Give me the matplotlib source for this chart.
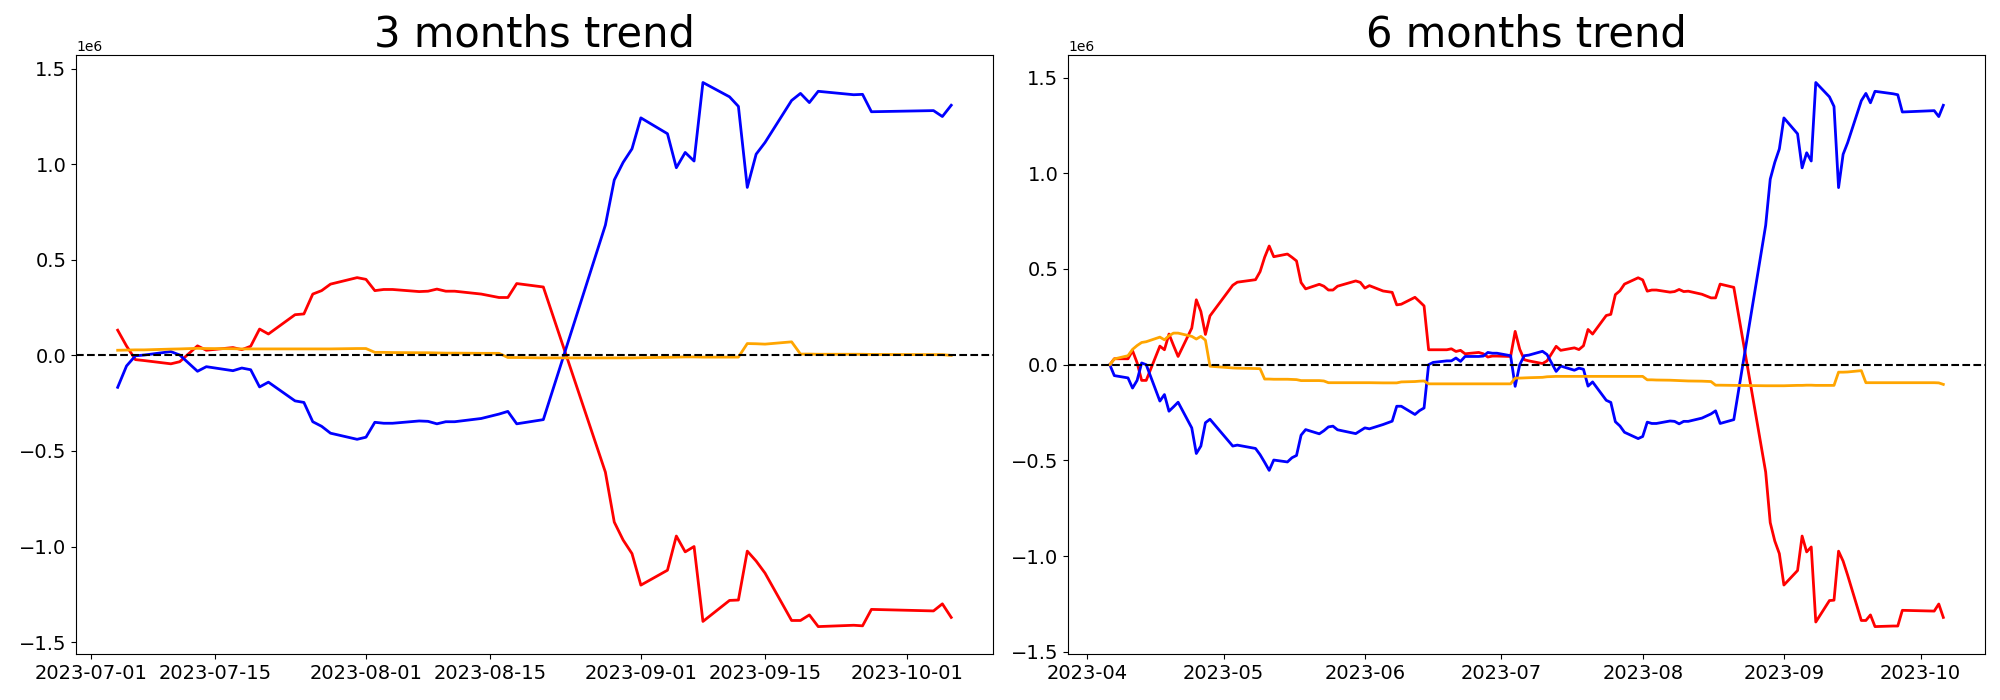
import matplotlib
matplotlib.use("Agg")
import matplotlib.pyplot as plt
import pandas as pd

# ---------------- 3 months trend ----------------
left_dates = [
    "2023-07-04", "2023-07-05", "2023-07-06", "2023-07-07",
    "2023-07-10", "2023-07-11", "2023-07-13", "2023-07-14",
    "2023-07-17", "2023-07-18", "2023-07-19", "2023-07-20", "2023-07-21",
    "2023-07-24", "2023-07-25", "2023-07-26", "2023-07-27", "2023-07-28",
    "2023-07-31", "2023-08-01", "2023-08-02", "2023-08-03", "2023-08-04",
    "2023-08-07", "2023-08-08", "2023-08-09", "2023-08-10", "2023-08-11",
    "2023-08-14", "2023-08-16", "2023-08-17", "2023-08-18",
    "2023-08-21", "2023-08-28", "2023-08-29", "2023-08-30", "2023-08-31", "2023-09-01",
    "2023-09-04", "2023-09-05", "2023-09-06", "2023-09-07", "2023-09-08",
    "2023-09-11", "2023-09-12", "2023-09-13", "2023-09-14", "2023-09-15",
    "2023-09-18", "2023-09-19", "2023-09-20", "2023-09-21",
    "2023-09-25", "2023-09-26", "2023-09-27",
    "2023-10-04", "2023-10-05", "2023-10-06",
]
left_red = [
    0.132e6, 0.049e6, -0.022e6, -0.027e6,
    -0.044e6, -0.033e6, 0.050e6, 0.027e6,
    0.041e6, 0.030e6, 0.048e6, 0.138e6, 0.112e6,
    0.213e6, 0.217e6, 0.321e6, 0.339e6, 0.373e6,
    0.407e6, 0.398e6, 0.339e6, 0.345e6, 0.345e6,
    0.334e6, 0.336e6, 0.347e6, 0.336e6, 0.336e6,
    0.321e6, 0.303e6, 0.303e6, 0.376e6,
    0.358e6, -0.611e6, -0.872e6, -0.966e6, -1.037e6, -1.202e6,
    -1.124e6, -0.945e6, -1.028e6, -1.000e6, -1.392e6,
    -1.282e6, -1.280e6, -1.024e6, -1.076e6, -1.139e6,
    -1.387e6, -1.387e6, -1.358e6, -1.419e6,
    -1.412e6, -1.415e6, -1.329e6,
    -1.337e6, -1.300e6, -1.371e6,
]
left_blue = [
    -0.167e6, -0.055e6, -0.002e6, 0.002e6,
    0.020e6, 0.002e6, -0.083e6, -0.059e6,
    -0.080e6, -0.066e6, -0.075e6, -0.165e6, -0.140e6,
    -0.238e6, -0.246e6, -0.347e6, -0.371e6, -0.407e6,
    -0.439e6, -0.428e6, -0.350e6, -0.355e6, -0.355e6,
    -0.343e6, -0.345e6, -0.358e6, -0.347e6, -0.347e6,
    -0.330e6, -0.307e6, -0.293e6, -0.358e6,
    -0.336e6, 0.682e6, 0.918e6, 1.010e6, 1.081e6, 1.243e6,
    1.160e6, 0.982e6, 1.062e6, 1.017e6, 1.428e6,
    1.353e6, 1.303e6, 0.879e6, 1.053e6, 1.114e6,
    1.334e6, 1.371e6, 1.323e6, 1.382e6,
    1.364e6, 1.366e6, 1.275e6,
    1.281e6, 1.250e6, 1.309e6,
]
left_orange = [
    0.027e6, 0.028e6, 0.029e6, 0.029e6,
    0.033e6, 0.034e6, 0.037e6, 0.036e6,
    0.035e6, 0.034e6, 0.034e6, 0.034e6, 0.034e6,
    0.034e6, 0.034e6, 0.034e6, 0.034e6, 0.034e6,
    0.036e6, 0.036e6, 0.016e6, 0.016e6, 0.015e6,
    0.014e6, 0.014e6, 0.013e6, 0.012e6, 0.012e6,
    0.011e6, 0.011e6, -0.011e6, -0.011e6,
    -0.013e6, -0.013e6, -0.013e6, -0.013e6, -0.013e6, -0.012e6,
    -0.010e6, -0.009e6, -0.008e6, -0.008e6, -0.009e6,
    -0.009e6, -0.009e6, 0.062e6, 0.061e6, 0.059e6,
    0.071e6, 0.007e6, 0.007e6, 0.006e6,
    0.006e6, 0.006e6, 0.005e6,
    0.004e6, 0.004e6, 0.000e6,
]

# ---------------- 6 months trend ----------------
right_dates = [
    "2023-04-06", "2023-04-07", "2023-04-10", "2023-04-11", "2023-04-12", "2023-04-13", "2023-04-14",
    "2023-04-17", "2023-04-18", "2023-04-19", "2023-04-20", "2023-04-21",
    "2023-04-24", "2023-04-25", "2023-04-26", "2023-04-27", "2023-04-28",
    "2023-05-03", "2023-05-04", "2023-05-08", "2023-05-09", "2023-05-10", "2023-05-11", "2023-05-12",
    "2023-05-15", "2023-05-16", "2023-05-17", "2023-05-18", "2023-05-19",
    "2023-05-22", "2023-05-23", "2023-05-24", "2023-05-25", "2023-05-26",
    "2023-05-30", "2023-05-31", "2023-06-01", "2023-06-02",
    "2023-06-05", "2023-06-07", "2023-06-08", "2023-06-09",
    "2023-06-12", "2023-06-13", "2023-06-14", "2023-06-15", "2023-06-16",
    "2023-06-19", "2023-06-20", "2023-06-21", "2023-06-22", "2023-06-23",
    "2023-06-26", "2023-06-27", "2023-06-28", "2023-06-29", "2023-06-30",
    "2023-07-03", "2023-07-04", "2023-07-05", "2023-07-06", "2023-07-07",
    "2023-07-10", "2023-07-11", "2023-07-13", "2023-07-14",
    "2023-07-17", "2023-07-18", "2023-07-19", "2023-07-20", "2023-07-21",
    "2023-07-24", "2023-07-25", "2023-07-26", "2023-07-27", "2023-07-28",
    "2023-07-31", "2023-08-01", "2023-08-02", "2023-08-03", "2023-08-04",
    "2023-08-07", "2023-08-08", "2023-08-09", "2023-08-10", "2023-08-11",
    "2023-08-14", "2023-08-16", "2023-08-17", "2023-08-18",
    "2023-08-21", "2023-08-28", "2023-08-29", "2023-08-30", "2023-08-31", "2023-09-01",
    "2023-09-04", "2023-09-05", "2023-09-06", "2023-09-07", "2023-09-08",
    "2023-09-11", "2023-09-12", "2023-09-13", "2023-09-14", "2023-09-15",
    "2023-09-18", "2023-09-19", "2023-09-20", "2023-09-21",
    "2023-09-25", "2023-09-26", "2023-09-27",
    "2023-10-04", "2023-10-05", "2023-10-06",
]
right_red = [
    0.0, 0.031e6, 0.031e6, 0.073e6, 0.010e6, -0.082e6, -0.082e6,
    0.097e6, 0.078e6, 0.160e6, 0.100e6, 0.043e6,
    0.191e6, 0.339e6, 0.278e6, 0.158e6, 0.255e6,
    0.415e6, 0.431e6, 0.444e6, 0.486e6, 0.561e6, 0.620e6, 0.564e6,
    0.578e6, 0.561e6, 0.542e6, 0.429e6, 0.396e6,
    0.420e6, 0.410e6, 0.390e6, 0.390e6, 0.410e6,
    0.4375e6, 0.430e6, 0.400e6, 0.413e6,
    0.385e6, 0.378e6, 0.3125e6, 0.316e6,
    0.352e6, 0.330e6, 0.307e6, 0.078e6, 0.078e6,
    0.078e6, 0.083e6, 0.069e6, 0.075e6, 0.057e6,
    0.064e6, 0.057e6, 0.040e6, 0.045e6, 0.045e6,
    0.043e6, 0.174e6, 0.081e6, 0.026e6, 0.020e6,
    0.006e6, 0.020e6, 0.096e6, 0.075e6,
    0.088e6, 0.079e6, 0.099e6, 0.184e6, 0.160e6,
    0.257e6, 0.263e6, 0.366e6, 0.386e6, 0.421e6,
    0.454e6, 0.443e6, 0.384e6, 0.390e6, 0.390e6,
    0.379e6, 0.382e6, 0.393e6, 0.382e6, 0.384e6,
    0.368e6, 0.349e6, 0.349e6, 0.421e6,
    0.404e6, -0.561e6, -0.825e6, -0.921e6, -0.987e6, -1.151e6,
    -1.075e6, -0.895e6, -0.978e6, -0.952e6, -1.344e6,
    -1.232e6, -1.230e6, -0.974e6, -1.026e6, -1.100e6,
    -1.336e6, -1.336e6, -1.307e6, -1.368e6,
    -1.365e6, -1.365e6, -1.283e6,
    -1.287e6, -1.250e6, -1.320e6,
]
right_blue = [
    0.0, -0.057e6, -0.069e6, -0.122e6, -0.082e6, 0.009e6, 0.0,
    -0.190e6, -0.156e6, -0.243e6, -0.220e6, -0.196e6,
    -0.330e6, -0.464e6, -0.425e6, -0.303e6, -0.285e6,
    -0.425e6, -0.420e6, -0.4375e6, -0.470e6, -0.510e6, -0.552e6, -0.498e6,
    -0.508e6, -0.486e6, -0.474e6, -0.368e6, -0.339e6,
    -0.361e6, -0.345e6, -0.325e6, -0.321e6, -0.340e6,
    -0.360e6, -0.345e6, -0.330e6, -0.335e6,
    -0.3125e6, -0.295e6, -0.217e6, -0.217e6,
    -0.260e6, -0.240e6, -0.226e6, 0.0, 0.012e6,
    0.020e6, 0.020e6, 0.035e6, 0.017e6, 0.043e6,
    0.043e6, 0.045e6, 0.064e6, 0.060e6, 0.060e6,
    0.047e6, -0.113e6, 0.0, 0.047e6, 0.050e6,
    0.070e6, 0.053e6, -0.035e6, -0.007e6,
    -0.029e6, -0.018e6, -0.024e6, -0.112e6, -0.090e6,
    -0.186e6, -0.197e6, -0.298e6, -0.320e6, -0.353e6,
    -0.386e6, -0.375e6, -0.300e6, -0.307e6, -0.307e6,
    -0.294e6, -0.296e6, -0.309e6, -0.296e6, -0.296e6,
    -0.279e6, -0.257e6, -0.241e6, -0.307e6,
    -0.287e6, 0.728e6, 0.969e6, 1.057e6, 1.127e6, 1.289e6,
    1.206e6, 1.028e6, 1.107e6, 1.064e6, 1.474e6,
    1.399e6, 1.349e6, 0.925e6, 1.099e6, 1.160e6,
    1.379e6, 1.417e6, 1.368e6, 1.428e6,
    1.415e6, 1.410e6, 1.320e6,
    1.327e6, 1.296e6, 1.355e6,
]
right_orange = [
    0.0, 0.030e6, 0.047e6, 0.080e6, 0.100e6, 0.116e6, 0.120e6,
    0.144e6, 0.130e6, 0.151e6, 0.165e6, 0.165e6,
    0.148e6, 0.134e6, 0.148e6, 0.128e6, -0.008e6,
    -0.017e6, -0.018e6, -0.020e6, -0.021e6, -0.075e6, -0.075e6, -0.076e6,
    -0.076e6, -0.077e6, -0.078e6, -0.083e6, -0.083e6,
    -0.083e6, -0.085e6, -0.094e6, -0.094e6, -0.094e6,
    -0.094e6, -0.094e6, -0.094e6, -0.094e6,
    -0.095e6, -0.095e6, -0.095e6, -0.090e6,
    -0.088e6, -0.086e6, -0.085e6, -0.100e6, -0.100e6,
    -0.100e6, -0.100e6, -0.100e6, -0.100e6, -0.100e6,
    -0.100e6, -0.100e6, -0.100e6, -0.100e6, -0.100e6,
    -0.100e6, -0.070e6, -0.070e6, -0.069e6, -0.068e6,
    -0.066e6, -0.063e6, -0.061e6, -0.061e6,
    -0.061e6, -0.061e6, -0.061e6, -0.061e6, -0.061e6,
    -0.061e6, -0.061e6, -0.061e6, -0.061e6, -0.061e6,
    -0.061e6, -0.061e6, -0.079e6, -0.079e6, -0.080e6,
    -0.081e6, -0.082e6, -0.083e6, -0.084e6, -0.085e6,
    -0.086e6, -0.088e6, -0.107e6, -0.107e6,
    -0.108e6, -0.110e6, -0.110e6, -0.110e6, -0.110e6, -0.110e6,
    -0.108e6, -0.108e6, -0.107e6, -0.107e6, -0.108e6,
    -0.108e6, -0.108e6, -0.039e6, -0.039e6, -0.038e6,
    -0.031e6, -0.094e6, -0.094e6, -0.094e6,
    -0.094e6, -0.094e6, -0.094e6,
    -0.094e6, -0.095e6, -0.103e6,
]

titles = ["3 months trend", "6 months trend"]

fig, axes = plt.subplots(1, 2, figsize=(20, 7), dpi=100)
fig.subplots_adjust(left=0.038, right=0.9925, bottom=0.066, top=0.921, wspace=0.082)

panels = [
    (left_dates, left_red, left_blue, left_orange),
    (right_dates, right_red, right_blue, right_orange),
]
for ax, title, (dates, red, blue, orange) in zip(axes, titles, panels):
    x = pd.to_datetime(dates)
    ax.plot(x, red, color="red", linewidth=2)
    ax.plot(x, blue, color="blue", linewidth=2)
    ax.plot(x, orange, color="orange", linewidth=2)
    ax.axhline(0, color="black", linestyle="--", linewidth=1.5)
    ax.set_title(title, fontsize=30)
    ax.tick_params(axis="both", labelsize=14)

fig.savefig("out.png", dpi=100)
